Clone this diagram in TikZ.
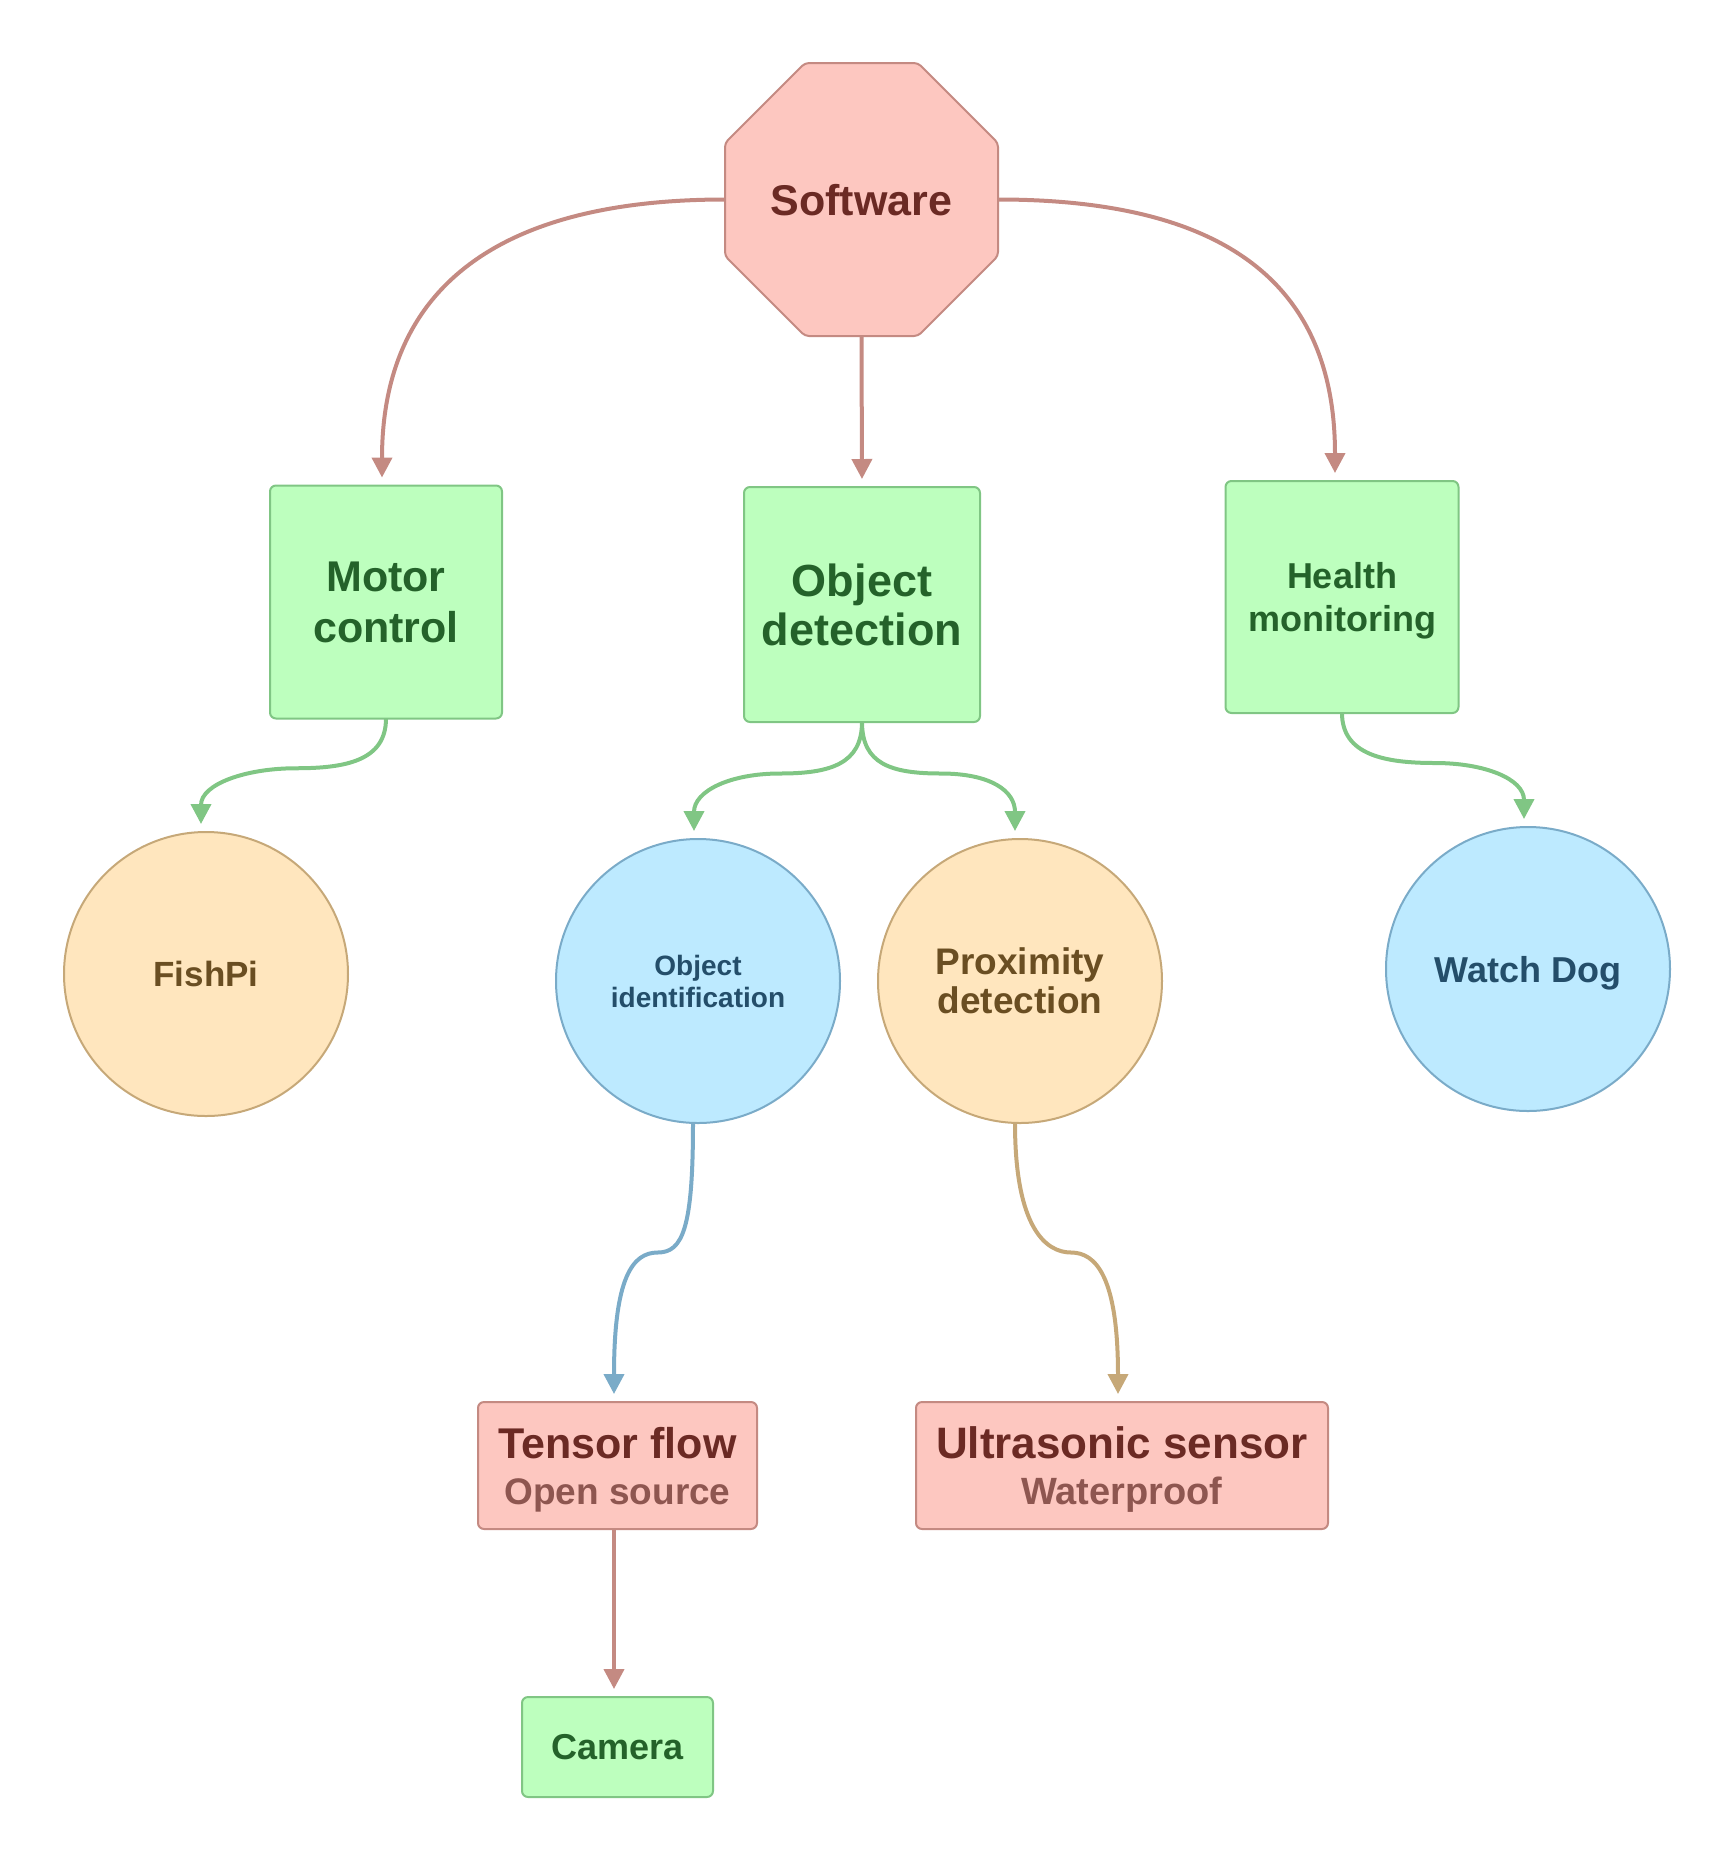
\documentclass[tikz,border=0pt]{standalone}
\usepackage{fontspec}
\setmainfont{Liberation Sans}
\usetikzlibrary{shapes.geometric,arrows.meta,calc}
\definecolor{pkF}{HTML}{FDC7C0}
\definecolor{pkD}{HTML}{C48A82}
\definecolor{pkT}{HTML}{6B2A24}
\definecolor{pkS}{HTML}{8E5650}
\definecolor{grF}{HTML}{BDFFBE}
\definecolor{grD}{HTML}{80C684}
\definecolor{grT}{HTML}{24622A}
\definecolor{orF}{HTML}{FFE6BE}
\definecolor{orD}{HTML}{C6A878}
\definecolor{orT}{HTML}{6A4E22}
\definecolor{blF}{HTML}{BDEAFF}
\definecolor{blD}{HTML}{7AABC8}
\definecolor{blT}{HTML}{244E6A}
\begin{document}
\begin{tikzpicture}[x=0.5pt,y=-0.5pt,
  base/.style={line width=1pt, inner sep=0pt, outer sep=0pt, align=center},
  octo/.style={base, regular polygon, regular polygon sides=8, minimum size=147.75pt, rounded corners=2pt, fill=pkF, draw=pkD, text=pkT},
  gbox/.style={base, rectangle, rounded corners=3pt, fill=grF, draw=grD, text=grT},
  pbox/.style={base, rectangle, rounded corners=3pt, fill=pkF, draw=pkD, text=pkT},
  ocirc/.style={base, circle, minimum size=142pt, fill=orF, draw=orD, text=orT},
  bcirc/.style={base, circle, minimum size=142pt, fill=blF, draw=blD, text=blT},
  conn/.style={line width=2pt, -{Triangle[length=10pt,width=10pt]}, shorten >=4pt},
]
\useasboundingbox (0,0) rectangle (1728,1854);

% nodes
\node[octo, font=\bfseries\fontsize{21.5}{25}\selectfont, text depth=0pt] (sw) at (861.5,199.5) {Software};
\node[gbox, minimum width=116pt, minimum height=116.5pt, font=\bfseries\fontsize{21.5}{25.5}\selectfont] (mc) at (386,602) {Motor\\control};
\node[gbox, minimum width=118pt, minimum height=117.5pt, font=\bfseries\fontsize{22.5}{24.5}\selectfont] (od) at (862,604.5) {Object\\detection};
\node[gbox, minimum width=116.5pt, minimum height=116pt, font=\bfseries\fontsize{18}{21.75}\selectfont, text depth=-1pt] (hm) at (1342,597) {Health\\monitoring};

\node[ocirc, font=\bfseries\fontsize{17.5}{21}\selectfont] (fp) at (206,974) {FishPi};
\node[bcirc, font=\bfseries\fontsize{14}{16}\selectfont] (oi) at (698,981) {Object\\identification};
\node[ocirc, font=\bfseries\fontsize{18.5}{19.5}\selectfont] (pd) at (1020,981) {Proximity\\detection};
\node[bcirc, font=\bfseries\fontsize{18}{21}\selectfont, text depth=0pt] (wd) at (1528,969) {Watch Dog};

\node[pbox, minimum width=139.5pt, minimum height=63.5pt, font=\bfseries\fontsize{21.5}{23}\selectfont, text depth=-2pt] (tf) at (617.5,1465.5)
  {Tensor flow\\{\color{pkS}\fontsize{18.5}{23}\selectfont Open source}};
\node[pbox, minimum width=206pt, minimum height=63.5pt, font=\bfseries\fontsize{22}{23}\selectfont, text depth=-2pt] (us) at (1122,1465.5)
  {Ultrasonic sensor\\{\color{pkS}\fontsize{19}{23}\selectfont Waterproof}};
\node[gbox, minimum width=95.5pt, minimum height=50pt, font=\bfseries\fontsize{18}{21}\selectfont] (cam) at (617.5,1747) {Camera};

% connectors
\draw[conn, pkD] (sw.west) .. controls +(-230,0) and +(0,-195) .. ([xshift=-2pt]mc.north);
\draw[conn, pkD] (sw.south) -- (od.north);
\draw[conn, pkD] (sw.east) .. controls +(230,0) and +(0,-195) .. ([xshift=-3.5pt]hm.north);

\draw[conn, grD] (mc.south) .. controls +(0,42) and +(50,0) .. ($(mc.south)!.5!(fp.north)+(0,-7)$)
  .. controls +(-50,0) and +(0,-48) .. ([xshift=-2.5pt]fp.north);
\draw[conn, grD] (od.south) .. controls +(0,42) and +(50,0) .. ($(od.south)!.5!(oi.north)+(0,-7)$)
  .. controls +(-50,0) and +(0,-48) .. ([xshift=-2pt]oi.north);
\draw[conn, grD] (od.south) .. controls +(0,42) and +(-50,0) .. ($(od.south)!.5!(pd.north)+(0,-7)$)
  .. controls +(50,0) and +(0,-48) .. ([xshift=-2.5pt]pd.north);
\draw[conn, grD] (hm.south) .. controls +(0,42) and +(-50,0) .. ($(hm.south)!.5!(wd.north)+(0,-7)$)
  .. controls +(50,0) and +(0,-48) .. ([xshift=-2pt]wd.north);

\draw[conn, blD] ([xshift=-2.5pt]oi.south) .. controls +(0,105) and +(25,0) .. ($(oi.south)!.5!(tf.north)+(0,-10)$)
  .. controls +(-25,0) and +(0,-125) .. ([xshift=-1.75pt]tf.north);
\draw[conn, orD] ([xshift=-2.5pt]pd.south) .. controls +(0,105) and +(-25,0) .. ($(pd.south)!.5!(us.north)+(0,-10)$)
  .. controls +(25,0) and +(0,-125) .. ([xshift=-2pt]us.north);

\draw[conn, pkD] ([xshift=-1.75pt]tf.south) -- ([xshift=-1.75pt]cam.north);
\end{tikzpicture}
\end{document}
